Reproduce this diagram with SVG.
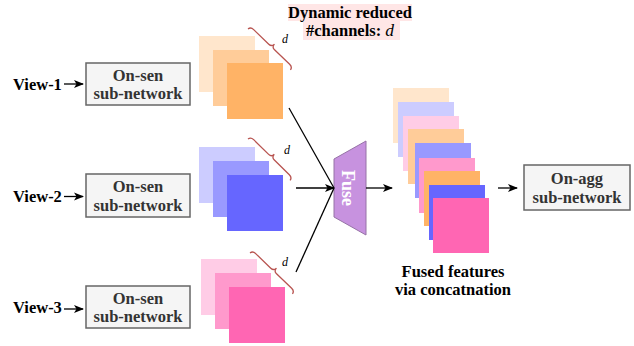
<svg xmlns="http://www.w3.org/2000/svg" width="634" height="346" viewBox="0 0 634 346">
<defs>
<marker id="arr" viewBox="0 0 10 10" refX="9" refY="5" markerWidth="10" markerHeight="10" markerUnits="userSpaceOnUse" orient="auto">
<path d="M0,1 L10,5 L0,9 L2.5,5 Z" fill="#000"/>
</marker>
<path id="brace" d="M0,0 Q0.5,-3.5 4.5,-3.5 L25.5,-3.5 Q29.5,-3.5 29.5,-7.5 Q29.5,-3.5 33.5,-3.5 L54.5,-3.5 Q58.5,-3.5 59,0" fill="none" stroke="#B85450" stroke-width="1.3"/>
</defs>
<style>
text{font-family:"Liberation Serif","Times New Roman",serif;}
.lbl{font-size:16.5px;font-weight:bold;fill:#000;}
.box{fill:#F5F5F5;stroke:#666666;stroke-width:1.5;}
.bt{font-size:16.5px;font-weight:bold;fill:#333333;text-anchor:middle;}
.d{font-size:12px;font-style:italic;fill:#000;}
.ln{stroke:#000;stroke-width:1.3;fill:none;}
</style>
<rect width="634" height="346" fill="#fff"/>

<g id="title">
<rect x="288" y="4" width="124" height="17" fill="#FFE6E6"/>
<rect x="303" y="21" width="97" height="19" fill="#FFE6E6"/>
<text x="350" y="18" class="lbl" text-anchor="middle">Dynamic reduced</text>
<text x="350" y="36" class="lbl" text-anchor="middle">#channels: <tspan font-weight="normal" font-style="italic" font-size="17.5">d</tspan></text>
</g>

<g id="view1">
<text x="13" y="90" class="lbl">View-1</text>
</g>
<g id="view2">
<text x="13" y="202" class="lbl">View-2</text>
</g>
<g id="view3">
<text x="13" y="313" class="lbl">View-3</text>
</g>

<g id="onsen1">
<rect x="86" y="63" width="104" height="42" class="box"/>
<text x="138" y="80.5" class="bt">On-sen</text>
<text x="138" y="99" class="bt">sub-network</text>
</g>
<g id="onsen2">
<rect x="86" y="174" width="104" height="43" class="box"/>
<text x="138" y="192" class="bt">On-sen</text>
<text x="138" y="210.5" class="bt">sub-network</text>
</g>
<g id="onsen3">
<rect x="86" y="286" width="104" height="42" class="box"/>
<text x="138" y="303.5" class="bt">On-sen</text>
<text x="138" y="322" class="bt">sub-network</text>
</g>

<g id="feat1">
<rect x="199" y="36" width="56" height="56" fill="#FFE6CC"/>
<rect x="213" y="50" width="56" height="56" fill="#FFCC99"/>
<rect x="227" y="63" width="56" height="56" fill="#FFB366"/>
<use href="#brace" transform="translate(248,29) rotate(44)"/>
<text x="282" y="43" class="d">d</text>
</g>
<g id="feat2">
<rect x="199" y="147" width="56" height="56" fill="#CCCCFF"/>
<rect x="213" y="161" width="56" height="56" fill="#9999FF"/>
<rect x="227" y="175" width="56" height="56" fill="#6666FF"/>
<use href="#brace" transform="translate(248,139) rotate(44.5)"/>
<text x="284" y="154" class="d">d</text>
</g>
<g id="feat3">
<rect x="201" y="259" width="56" height="56" fill="#FFCCE6"/>
<rect x="215" y="273" width="56" height="56" fill="#FF99CC"/>
<rect x="229" y="287" width="56" height="56" fill="#FF66B3"/>
<use href="#brace" transform="translate(250,253) rotate(44)"/>
<text x="282" y="266" class="d">d</text>
</g>

<g id="fuse">
<path d="M334,159 L366,141 L366,235 L334,217 Z" fill="#C792DF" stroke="#9673A6" stroke-width="1"/>
<text transform="translate(342,188) rotate(90)" x="0" y="0" text-anchor="middle" font-size="18" font-weight="bold" fill="#fff">Fuse</text>
</g>

<g id="fused">
<rect x="393" y="88" width="56" height="55" fill="#FFE6CC"/>
<rect x="398" y="102" width="56" height="55" fill="#CCCCFF"/>
<rect x="403" y="116" width="56" height="55" fill="#FFCCE6"/>
<rect x="408" y="129" width="56" height="55" fill="#FFCC99"/>
<rect x="415" y="143" width="56" height="55" fill="#9999FF"/>
<rect x="419" y="158" width="56" height="55" fill="#FF99CC"/>
<rect x="424" y="171" width="56" height="55" fill="#FFB366"/>
<rect x="429" y="185" width="56" height="55" fill="#6666FF"/>
<rect x="433" y="198" width="56" height="55" fill="#FF66B3"/>
<text x="453" y="277" class="bt" fill="#000" style="fill:#000">Fused features</text>
<text x="453" y="295" class="bt" style="fill:#000">via concatnation</text>
</g>

<g id="onagg">
<rect x="524" y="165" width="106" height="45" class="box"/>
<text x="577" y="184" class="bt">On-agg</text>
<text x="577" y="202.5" class="bt">sub-network</text>
</g>

<g id="connectors">
<line x1="64" y1="84" x2="83" y2="84" class="ln" marker-end="url(#arr)"/>
<line x1="64" y1="196.5" x2="83" y2="196.5" class="ln" marker-end="url(#arr)"/>
<line x1="64" y1="309" x2="83" y2="309" class="ln" marker-end="url(#arr)"/>
<line x1="289" y1="108" x2="334" y2="188" class="ln"/>
<line x1="296" y1="272" x2="334" y2="188" class="ln"/>
<line x1="296" y1="188" x2="334" y2="188" class="ln" marker-end="url(#arr)"/>
<line x1="366" y1="188" x2="392" y2="188" class="ln" marker-end="url(#arr)"/>
<line x1="498" y1="188" x2="517" y2="188" class="ln" marker-end="url(#arr)"/>
</g>
</svg>
